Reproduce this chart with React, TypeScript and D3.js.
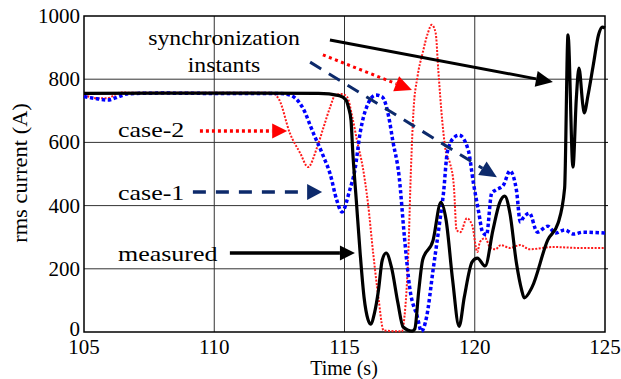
import * as d3 from "d3";

// time (s) and rms current (A)
const measuredT = [105, 108, 111, 114, 114.8, 115.05, 115.15, 115.25, 115.32, 115.45, 115.6, 115.75, 115.9, 116.0, 116.15, 116.3, 116.45, 116.6, 116.8, 117.05, 117.25, 117.6, 117.7, 117.85, 118.0, 118.4, 118.7, 118.9, 119.15, 119.4, 119.6, 119.9, 120.1, 120.4, 120.7, 120.95, 121.15, 121.35, 121.6, 121.8, 121.9, 122.2, 122.8, 123.2, 123.45, 123.58, 123.77, 123.9, 124.0, 124.15, 124.2, 124.35, 124.55, 124.75, 124.9, 125];
const measuredV = [755, 756, 756, 755, 748, 735, 712, 670, 566, 420, 250, 110, 40, 25, 60, 130, 228, 250, 206, 92, 16, 3, 10, 130, 228, 290, 410, 354, 165, 18, 111, 222, 234, 209, 323, 408, 430, 376, 218, 133, 108, 142, 291, 345, 455, 940, 522, 740, 835, 718, 693, 750, 845, 940, 965, 962];

const case1T = [105, 105.5, 105.9, 106.4, 106.7, 108, 110, 112.5, 112.9, 113.4, 113.8, 114.2, 114.45, 114.7, 114.9, 115.2, 115.4, 115.6, 115.85, 116.2, 116.45, 116.7, 116.85, 117.1, 117.3, 117.5, 117.8, 117.95, 118.15, 118.4, 118.65, 118.8, 118.95, 119.2, 119.4, 119.75, 119.95, 120.15, 120.3, 120.45, 120.65, 120.8, 121.1, 121.35, 121.6, 121.75, 121.85, 122.1, 122.4, 122.8, 123.1, 123.45, 123.8, 124.15, 125];
const case1V = [745, 738, 734, 747, 754, 756, 755, 755, 750, 709, 630, 554, 500, 418, 380, 449, 513, 630, 712, 750, 744, 680, 607, 490, 301, 142, 47, 2, 47, 196, 345, 440, 570, 615, 623, 576, 471, 380, 316, 307, 440, 449, 465, 510, 449, 348, 360, 376, 316, 335, 313, 323, 310, 316, 313];

const case2T = [105, 105.5, 105.9, 106.4, 107, 110, 112.2, 112.5, 112.9, 113.3, 113.6, 113.95, 114.2, 114.45, 114.65, 114.9, 115.1, 115.3, 115.5, 115.7, 115.9, 116.1, 116.3, 116.5, 117.2, 117.3, 117.45, 117.55, 117.65, 117.8, 118.0, 118.2, 118.35, 118.5, 118.6, 118.75, 118.9, 119.05, 119.2, 119.3, 119.45, 119.7, 119.9, 120.1, 120.2, 120.4, 120.6, 120.8, 121.0, 121.35, 121.75, 122.1, 123, 124, 125];
const case2V = [750, 740, 740, 758, 757, 757, 757, 734, 630, 566, 522, 585, 649, 712, 750, 753, 744, 680, 598, 522, 408, 250, 111, 5, 2, 47, 250, 513, 702, 807, 883, 946, 972, 946, 829, 670, 566, 534, 460, 323, 316, 360, 338, 253, 285, 297, 266, 262, 275, 266, 275, 262, 269, 266, 266];

const xTicks = [105, 110, 115, 120, 125];
const yTicks = [0, 200, 400, 600, 800, 1000];
const xGrid = [110, 115, 120];
const yGrid = [200, 400, 600, 800];

const W = 621;
const H = 379;
const FONT = "'Liberation Serif', 'Times New Roman', serif";

const x = d3.scaleLinear().domain([105, 125]).range([84, 605]);
const y = d3.scaleLinear().domain([0, 1000]).range([332, 16]);

type P = [number, number];
const zip = (ts: number[], vs: number[]): P[] => ts.map((t, i) => [t, vs[i]]);

const line = d3
  .line<P>()
  .x((d) => x(d[0]))
  .y((d) => y(d[1]))
  .curve(d3.curveMonotoneX);

function Arrow({ from, to, color, width, dash, head = 16, half = 7.5 }: { from: P; to: P; color: string; width: number; dash?: string; head?: number; half?: number }) {
  const x1 = x(from[0]), y1 = y(from[1]);
  const x2 = x(to[0]), y2 = y(to[1]);
  const a = Math.atan2(y2 - y1, x2 - x1);
  const bx = x2 - head * Math.cos(a), by = y2 - head * Math.sin(a);
  const nx = -Math.sin(a) * half, ny = Math.cos(a) * half;
  return (
    <g>
      <line x1={x1} y1={y1} x2={bx} y2={by} stroke={color} strokeWidth={width} strokeDasharray={dash} />
      <polygon points={`${x2},${y2} ${bx + nx},${by + ny} ${bx - nx},${by - ny}`} fill={color} />
    </g>
  );
}

function Label({ px, py, size, sx = 1, anchor = "start", children }: { px: number; py: number; size: number; sx?: number; anchor?: string; children: string }) {
  return (
    <text transform={`translate(${px},${py}) scale(${sx},1)`} fontSize={size} textAnchor={anchor} fontFamily={FONT} fill="#000">
      {children}
    </text>
  );
}

export default function App() {
  return (
    <svg width={W} height={H} style={{ position: "absolute", left: 0, top: 0, background: "#fff" }}>
      <rect width={W} height={H} fill="#fff" />
      {/* grid */}
      {xGrid.map((t) => (
        <line key={"gx" + t} x1={x(t)} x2={x(t)} y1={y(0)} y2={y(1000)} stroke="#333" strokeWidth={1} />
      ))}
      {yGrid.map((v) => (
        <line key={"gy" + v} x1={x(105)} x2={x(125)} y1={y(v)} y2={y(v)} stroke="#333" strokeWidth={1} />
      ))}
      {/* frame */}
      <rect x={x(105)} y={y(1000)} width={x(125) - x(105)} height={y(0) - y(1000)} fill="none" stroke="#000" strokeWidth={1.5} />
      {yGrid.map((v) => (
        <line key={"rt" + v} x1={x(125)} x2={x(125) + 3} y1={y(v)} y2={y(v)} stroke="#000" strokeWidth={1} />
      ))}

      {/* series */}
      <path d={line(zip(case2T, case2V)) || ""} fill="none" stroke="#ff1a1a" strokeWidth={2} strokeDasharray="2 1.5" />
      <path d={line(zip(case1T, case1V)) || ""} fill="none" stroke="#0000ff" strokeWidth={3.5} strokeDasharray="3.5 2.5" />
      <path d={line(zip(measuredT, measuredV)) || ""} fill="none" stroke="#000" strokeWidth={3.2} strokeLinejoin="round" />

      {/* axis ticks */}
      {yTicks.map((v) => (
        <text key={"yt" + v} x={80} y={v === 0 ? y(v) + 4 : y(v) + 7} fontSize={21} textAnchor="end" fontFamily={FONT}>
          {v}
        </text>
      ))}
      {xTicks.map((t) => (
        <text key={"xt" + t} x={x(t)} y={354} fontSize={21} textAnchor="middle" fontFamily={FONT}>
          {t}
        </text>
      ))}
      <text x={344} y={375} fontSize={20} textAnchor="middle" fontFamily={FONT}>
        Time (s)
      </text>
      <text transform={`translate(27,173) rotate(-90) scale(1.07,1)`} fontSize={21} textAnchor="middle" fontFamily={FONT}>
        rms current (A)
      </text>

      {/* annotations */}
      <Label px={224} py={45} size={21} sx={1.13} anchor="middle">synchronization</Label>
      <Label px={224} py={72} size={21} sx={1.13} anchor="middle">instants</Label>
      <Arrow from={[114.44, 924]} to={[123.0, 791]} color="#000" width={3} head={17} half={8} />
      <Arrow from={[114.17, 877]} to={[117.59, 766]} color="#ff0000" width={3} dash="3 3.5" head={17} half={8} />
      <Arrow from={[113.68, 854]} to={[120.85, 490]} color="#0d2a6b" width={3} dash="13 9" head={17} half={8} />

      <Label px={118} py={137} size={22} sx={1.18}>case-2</Label>
      <Arrow from={[109.45, 636]} to={[112.8, 636]} color="#ff0000" width={3.5} dash="3 3" head={15} half={7.5} />
      <Label px={118} py={200} size={22} sx={1.18}>case-1</Label>
      <Arrow from={[109.18, 443]} to={[114.14, 443]} color="#0d2a6b" width={3.5} dash="13 10" head={15} half={8} />
      <Label px={118} py={261} size={22} sx={1.18}>measured</Label>
      <Arrow from={[110.6, 250]} to={[115.4, 250]} color="#000" width={3.5} head={15} half={7.5} />
    </svg>
  );
}
